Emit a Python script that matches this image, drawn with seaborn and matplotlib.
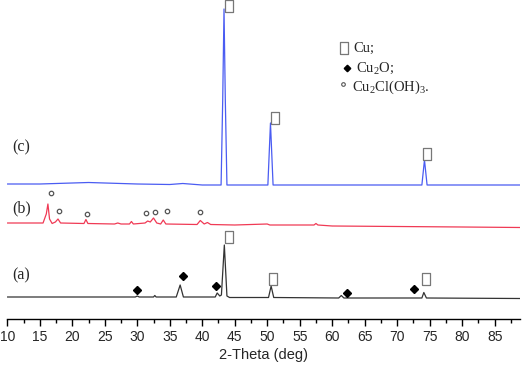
import numpy as np
import pandas as pd
import matplotlib.pyplot as plt
import seaborn as sns
from matplotlib.ticker import MultipleLocator

sns.set_style("white")
plt.rcParams['font.family'] = ['Liberation Sans', 'DejaVu Sans']
plt.rcParams['mathtext.fontset'] = 'custom'
plt.rcParams['mathtext.rm'] = 'Liberation Serif'
plt.rcParams['mathtext.it'] = 'Liberation Serif:italic'

# ── Data (arbitrary intensity units) ────
theta_c = [10, 15, 20, 22.5, 25, 30, 35, 37, 40, 42.9, 43.15, 43.35, 43.55, 43.8,
           45, 50.1, 50.5, 50.9, 55, 60, 65, 70, 73.8, 74.2, 74.6, 80, 88.9]
int_c   = [135, 135, 136, 136.5, 136, 135, 134.5, 135.5, 134, 134, 219, 310, 219, 134,
           134, 134, 196, 134, 134, 134, 134, 134, 134, 159, 134, 134, 134]

theta_b = [10, 15.5, 16.0, 16.25, 16.5, 16.9, 17.4, 17.8, 18.2, 21.8, 22.1, 22.4, 26.5,
           27.0, 27.5, 28.8, 29.1, 29.4, 31.2, 31.6, 32.0, 32.5, 33.0, 33.6, 34.0, 34.4,
           39.2, 39.7, 40.3, 40.8, 41.3, 45, 50.0, 50.4, 57.2, 57.5, 57.8, 60, 70, 80, 88.9]
int_b   = [96, 96, 105, 115, 100, 95.5, 97, 100, 96, 95.5, 99.5, 95.5, 95,
           96, 95, 95, 97.5, 95, 96, 98, 97, 101, 96, 95, 99, 95,
           94.5, 98.5, 95, 96.5, 94.5, 94, 95, 94, 94, 95.5, 94, 93, 92.5, 92, 91.5]

theta_a = [10, 20, 29.7, 30.0, 30.3, 32.5, 32.7, 32.9, 36.0, 36.6, 37.1, 42.0, 42.3, 42.7,
           42.95, 43.4, 43.8, 44.2, 50.2, 50.6, 51.0, 61.0, 61.4, 61.8, 73.8, 74.1, 74.5, 88.9]
int_a   = [22, 22, 22, 23, 22, 22, 23.5, 22, 22, 34, 22, 22, 26, 23,
           24, 74, 23, 21.5, 21.5, 33, 21.5, 21, 23.5, 21, 21, 26.5, 21, 20.5]

# phase markers
cu_theta  = [44.1, 51.2, 74.6, 44.1, 50.9, 74.4]
cu_int    = [313, 201, 165, 82, 40, 40]
cu2o_theta = [30.0, 37.1, 42.1, 62.2, 72.6]
cu2o_int   = [29, 43, 33, 26, 30]
clo_theta = [16.8, 18.0, 22.3, 31.3, 32.7, 34.5, 39.6]
clo_int   = [126, 108, 105, 106, 107, 108, 107]

curves = pd.concat([
    pd.DataFrame({'theta': theta_c, 'intensity': int_c, 'sample': 'c'}),
    pd.DataFrame({'theta': theta_b, 'intensity': int_b, 'sample': 'b'}),
    pd.DataFrame({'theta': theta_a, 'intensity': int_a, 'sample': 'a'}),
])
colors = {'c': '#4a5cf2', 'b': '#f03a55', 'a': '#333333'}

# ── Figure ────────────────────────────────────────────────────
fig = plt.figure(figsize=(5.24, 3.68), dpi=100, facecolor='white')
ax = fig.add_axes([7.3 / 524, 49 / 368, 512.7 / 524, 319 / 368])

sns.lineplot(data=curves, x='theta', y='intensity', hue='sample', palette=colors,
             sort=False, estimator=None, linewidth=0.9, legend=False, ax=ax)

rect = [(-0.32, -0.5), (0.32, -0.5), (0.32, 0.5), (-0.32, 0.5), (-0.32, -0.5)]
ax.plot(cu_theta, cu_int, linestyle='none', marker=rect, markersize=8,
        markerfacecolor='white', markeredgecolor='#777777', markeredgewidth=0.9)
ax.plot(cu2o_theta, cu2o_int, linestyle='none', marker='D', markersize=3.7,
        color='black')
ax.plot(clo_theta, clo_int, linestyle='none', marker='o', markersize=3.2,
        markerfacecolor='white', markeredgecolor='#555555', markeredgewidth=0.9)

# legend block
ax.plot([61.8], [271], linestyle='none', marker=rect, markersize=8,
        markerfacecolor='white', markeredgecolor='#777777', markeredgewidth=0.9)
ax.plot([62.3], [251], linestyle='none', marker='D', markersize=3.3, color='black')
ax.plot([61.6], [235], linestyle='none', marker='o', markersize=2.6,
        markerfacecolor='white', markeredgecolor='#555555', markeredgewidth=0.8)
serif = ['Liberation Serif', 'DejaVu Serif']
ax.text(63.3, 271, 'Cu;', fontsize=10.5, family=serif, va='center')
ax.text(63.6, 251, r'Cu$_2$O;', fontsize=10.5, family=serif, va='center')
ax.text(63.0, 232, r'Cu$_2$Cl(OH)$_3$.', fontsize=10.5, family=serif, va='center')

# sample labels
for lab, y in [('(c)', 172), ('(b)', 111), ('(a)', 44)]:
    ax.text(10.8, y, lab, fontsize=11.5, family=serif, va='center')

ax.set_xlim(10, 88.9)
ax.set_ylim(0, 319)
ax.xaxis.set_major_locator(MultipleLocator(5))
ax.xaxis.set_minor_locator(MultipleLocator(2.5))
ax.tick_params(axis='x', which='major', direction='out', length=5, width=1,
               color='black', labelsize=10, pad=3, bottom=True)
ax.tick_params(axis='x', which='minor', direction='out', length=3, width=1,
               color='black', bottom=True)
ax.set_yticks([])
for side in ['left', 'right', 'top']:
    ax.spines[side].set_visible(False)
ax.spines['bottom'].set_color('black')
ax.spines['bottom'].set_linewidth(1)
ax.set_facecolor('white')
ax.set_xlabel('2-Theta (deg)', fontsize=10.5, labelpad=3)
ax.set_ylabel('')

fig.savefig('out.png', dpi=100, facecolor='white')
